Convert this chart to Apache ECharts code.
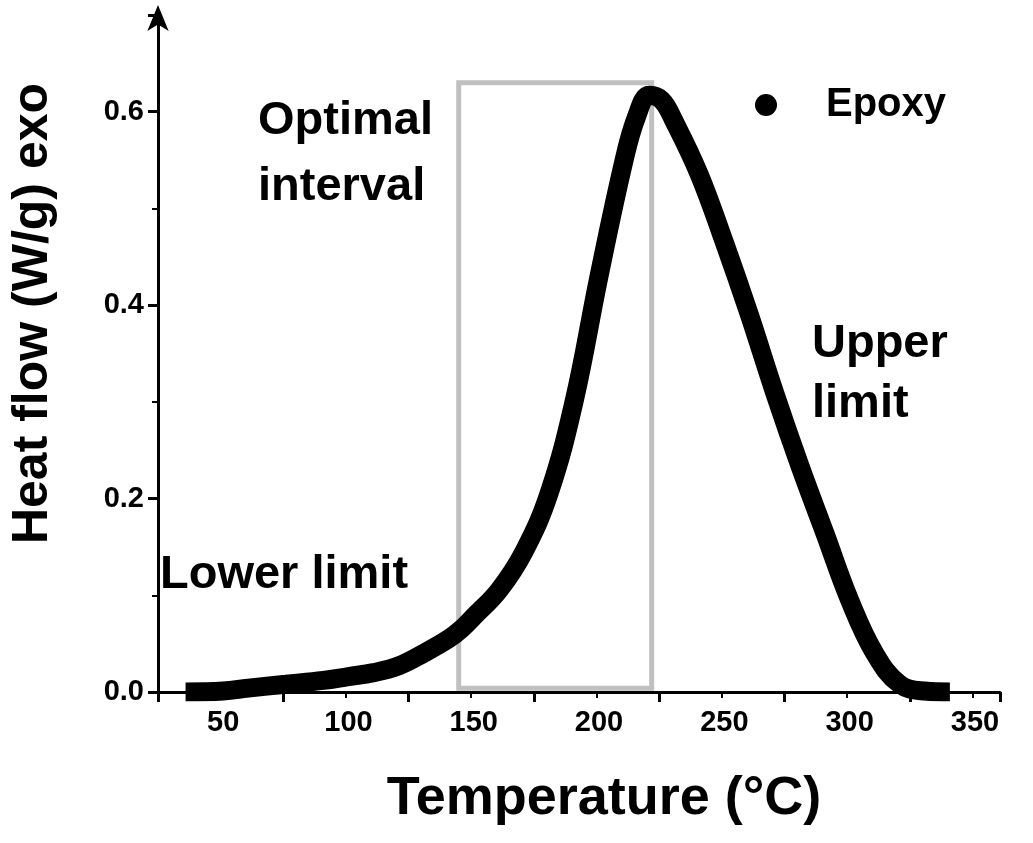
<!DOCTYPE html>
<html>
<head>
<meta charset="utf-8">
<title>Epoxy DSC</title>
<script src="https://cdn.jsdelivr.net/npm/echarts@6/dist/echarts.min.js"></script>
<style>body{margin:0;background:#fff}</style>
</head>
<body>
<div id="chart" style="width:1033px;height:843px;"></div>
<script>
// temperature (°C) and heat flow (W/g)
var temps = [35, 50, 60, 75, 90, 100, 110, 120, 130, 140, 145, 150, 160, 170, 180, 190, 200, 210, 215, 220, 225, 230, 240, 250, 260, 270, 280, 290, 300, 310, 320, 330, 340];
var heat  = [0, 0.001, 0.004, 0.008, 0.012, 0.016, 0.02, 0.027, 0.04, 0.055, 0.065, 0.078, 0.105, 0.145, 0.205, 0.3, 0.43, 0.55, 0.595, 0.617, 0.612, 0.59, 0.535, 0.465, 0.39, 0.31, 0.235, 0.165, 0.095, 0.04, 0.008, 0.001, 0];
var boxX = [144, 221];
var boxY = [0.004, 0.63];

var pts = temps.map(function (t, i) { return [t, heat[i]]; });
var F = 'Liberation Sans, Arial, sans-serif';

var chart = echarts.init(document.getElementById('chart'));
chart.setOption({
  animation: false,
  grid: { left: 150, right: 33, top: 15, bottom: 151 },
  legend: {
    left: 750, top: 80, itemWidth: 22, itemHeight: 22, icon: 'circle',
    textStyle: { fontFamily: F, fontWeight: 'bold', fontSize: 40, color: '#000', padding: [0, 0, 0, 44] },
    data: ['Epoxy']
  },
  xAxis: {
    type: 'value', min: 24, max: 360, interval: 50,
    name: 'Temperature (°C)', nameLocation: 'middle', nameGap: 80,
    nameTextStyle: { fontFamily: F, fontWeight: 'bold', fontSize: 54, color: '#000', padding: [0, 0, 0, 50] },
    axisLine: { onZero: false, lineStyle: { color: '#000', width: 3 } },
    axisTick: { length: 10, lineStyle: { width: 3 } },
    minorTick: { show: true, splitNumber: 2, length: 6, lineStyle: { color: '#000', width: 2 } },
    axisLabel: { fontFamily: F, fontWeight: 'bold', fontSize: 29, color: '#000', margin: 16,
      customValues: [50, 100, 150, 200, 250, 300, 350] },
    splitLine: { show: false }
  },
  yAxis: {
    type: 'value', min: 0, max: 0.7, interval: 0.2,
    name: 'Heat flow (W/g) exo', nameLocation: 'middle', nameGap: 100,
    nameTextStyle: { fontFamily: F, fontWeight: 'bold', fontSize: 50, color: '#000', padding: [0, 0, 0, 80] },
    axisLine: { lineStyle: { color: '#000', width: 3 }, symbol: ['none', 'arrow'], symbolSize: [16, 26], symbolOffset: [0, 10] },
    axisTick: { length: 10, lineStyle: { width: 3 } },
    minorTick: { show: true, splitNumber: 2, length: 6, lineStyle: { color: '#000', width: 2 } },
    axisLabel: { fontFamily: F, fontWeight: 'bold', fontSize: 29, color: '#000', margin: 14, showMaxLabel: false,
      formatter: function (v) { return v > 0.65 ? '' : v.toFixed(1); } },
    splitLine: { show: false }
  },
  series: [{
    name: 'Epoxy', type: 'line', data: pts, smooth: 0.4,
    showSymbol: false, symbol: 'circle', symbolSize: 14,
    itemStyle: { color: '#000' },
    lineStyle: { color: '#000', width: 19 },
    markArea: {
      silent: true,
      itemStyle: { color: 'rgba(0,0,0,0)', borderColor: '#c0c0c0', borderWidth: 5 },
      data: [[{ coord: [boxX[0], boxY[0]] }, { coord: [boxX[1], boxY[1]] }]]
    }
  }],
  graphic: [
    { type: 'text', left: 258, top: 88, style: { text: 'Optimal\ninterval', font: 'bold 47px ' + F, fill: '#000', lineHeight: 66 } },
    { type: 'text', left: 812, top: 314, style: { text: 'Upper\nlimit', font: 'bold 47px ' + F, fill: '#000', lineHeight: 60 } },
    { type: 'text', left: 160, top: 552, style: { text: 'Lower limit', font: 'bold 47px ' + F, fill: '#000' } }
  ]
});
</script>
</body>
</html>
